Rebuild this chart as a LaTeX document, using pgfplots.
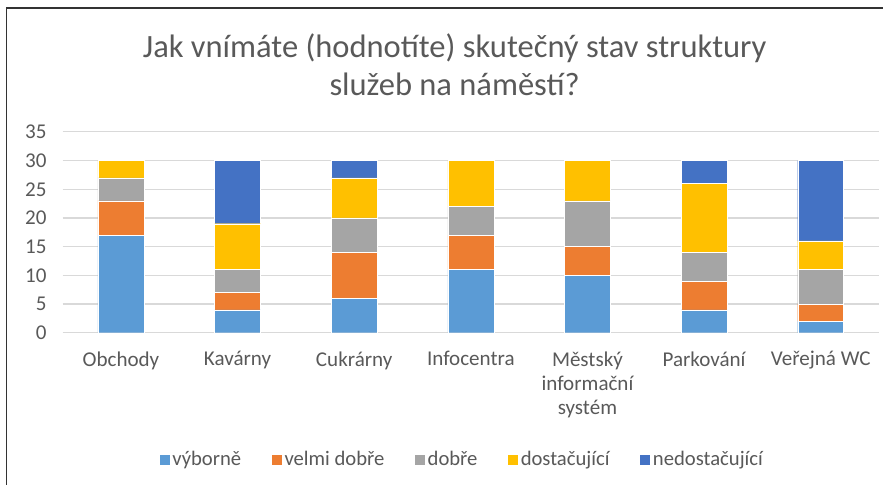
\documentclass[border=0pt]{standalone}
\usepackage{pgfplots}
\pgfplotsset{compat=1.18}
\usepackage{fontspec}
\setmainfont{Carlito}
\definecolor{cA}{HTML}{5B9BD5}
\definecolor{cB}{HTML}{ED7D31}
\definecolor{cC}{HTML}{A5A5A5}
\definecolor{cD}{HTML}{FFC000}
\definecolor{cE}{HTML}{4472C4}
\definecolor{txt}{HTML}{595959}
\definecolor{grd}{HTML}{D9D9D9}
\begin{document}
\begin{tikzpicture}
\path (0pt,0pt) rectangle (663pt,363.75pt);
\draw[black!80,line width=1pt] (4.9pt,0pt) -- (4.9pt,357.75pt) -- (663pt,357.75pt);
\node[font=\fontsize{24.4}{28.5}\selectfont,text=txt,align=center] at (341.25pt,315pt) {Jak vnímáte (hodnotíte) skutečný stav struktury\\služeb na náměstí?};
\begin{axis}[
  at={(47pt,264.75pt)}, anchor=north west,
  scale only axis, width=612.75pt, height=150.75pt,
  ymin=0, ymax=35, ytick distance=5,
  xmin=-0.5, xmax=6.5,
  xtick={0,...,6},
  xticklabels={Obchody,Kavárny,Cukrárny,Infocentra,{Městský\\informační\\systém},Parkování,Veřejná WC},
  xticklabel style={align=center, font=\fontsize{15.8}{18.2}\selectfont, text=txt, yshift=-10.5pt},
  yticklabel style={font=\fontsize{15.8}{18}\selectfont, text=txt, xshift=-8.5pt},
  /pgf/number format/assume math mode=true,
  ymajorgrids, grid style={grd, line width=0.9pt},
  axis line style={draw=none},
  major tick length=0pt,
  ybar stacked, bar width=34.5pt,
  legend style={at={(0.49,-0.632)}, anchor=center, legend columns=-1, draw=none,
    font=\fontsize{15.5}{18}\selectfont, text=txt,
    /tikz/every even column/.append style={column sep=21pt}},
  legend image code/.code={\fill[#1,draw=none] (0pt,-3.75pt) rectangle (7.5pt,3.75pt);},
  every axis plot/.append style={draw=white, line width=0.3pt},
]
\addplot[fill=cA] coordinates {(0,17) (1,4) (2,6) (3,11) (4,10) (5,4) (6,2)};
\addplot[fill=cB] coordinates {(0,6) (1,3) (2,8) (3,6) (4,5) (5,5) (6,3)};
\addplot[fill=cC] coordinates {(0,4) (1,4) (2,6) (3,5) (4,8) (5,5) (6,6)};
\addplot[fill=cD] coordinates {(0,3) (1,8) (2,7) (3,8) (4,7) (5,12) (6,5)};
\addplot[fill=cE] coordinates {(0,0) (1,11) (2,3) (3,0) (4,0) (5,4) (6,14)};
\legend{výborně, velmi dobře, dobře, dostačující, nedostačující}
\end{axis}
\end{tikzpicture}
\end{document}
